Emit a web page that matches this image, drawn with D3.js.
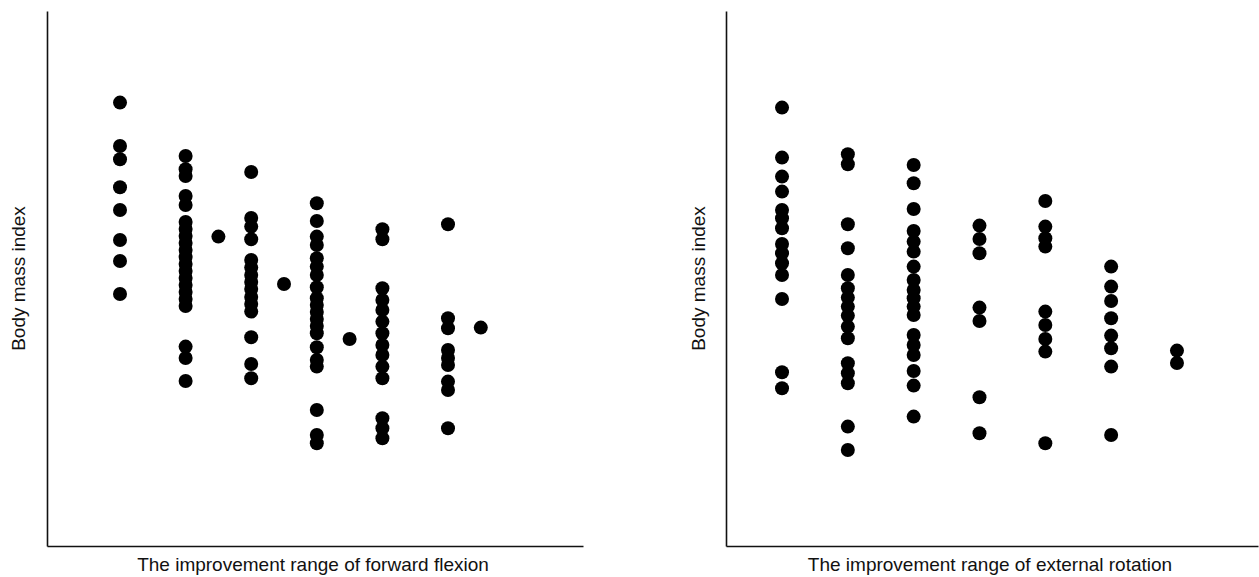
<!DOCTYPE html>
<html>
<head>
<meta charset="utf-8">
<script src="https://cdn.jsdelivr.net/npm/d3@7"></script>
<style>
  body { margin: 0; background: #fff; }
  text { font-family: "Liberation Sans", Arial, sans-serif; }
</style>
</head>
<body>
<div id="chart"></div>
<script>
// improvement range (degrees) for each column of dots
const flexionLevels = [10, 30, 40, 50, 60, 70, 80, 90, 110, 120];
// body mass index values per column, forward flexion panel
const flexionBmi = [
  [35.07, 32.9, 32.24, 30.84, 29.7, 28.2, 27.15, 25.5],
  [32.4, 31.74, 31.4, 30.4, 29.95, 29.1, 28.75, 28.4, 28.05, 27.7, 27.35, 27.0, 26.65, 26.3, 25.95, 25.6, 25.25, 24.9, 22.87, 22.3, 21.15],
  [28.37],
  [31.6, 29.3, 28.87, 28.24, 27.2, 26.82, 26.45, 26.1, 25.75, 25.35, 25.0, 24.62, 23.34, 22.0, 21.29],
  [26.0],
  [30.04, 29.15, 28.37, 27.95, 27.29, 26.87, 26.45, 25.84, 25.29, 24.95, 24.6, 24.25, 23.9, 23.54, 22.84, 22.2, 21.87, 19.7, 18.45, 18.04],
  [23.25],
  [28.74, 28.24, 25.79, 25.2, 24.7, 24.12, 23.54, 22.95, 22.45, 21.87, 21.29, 19.29, 18.79, 18.29],
  [28.99, 24.29, 23.79, 22.7, 22.3, 21.95, 21.12, 20.7, 18.79],
  [23.82]
];

const rotationLevels = [10, 20, 30, 40, 50, 60, 70];
const rotationBmi = [
  [34.82, 32.32, 31.37, 30.62, 29.7, 29.29, 28.79, 28.0, 27.54, 27.04, 26.45, 25.25, 21.59, 20.79],
  [32.49, 31.99, 28.99, 27.79, 26.45, 25.79, 25.32, 24.87, 24.42, 23.87, 23.29, 22.04, 21.54, 21.04, 18.87, 17.7],
  [31.95, 31.04, 29.75, 28.65, 28.12, 27.62, 26.87, 26.2, 25.7, 25.29, 24.87, 24.45, 23.45, 22.95, 22.45, 21.65, 20.92, 19.37],
  [28.92, 28.25, 27.54, 24.82, 24.15, 20.34, 18.54],
  [30.15, 28.87, 28.29, 27.87, 24.62, 23.95, 23.25, 22.62, 18.04],
  [26.87, 25.87, 25.15, 24.29, 23.42, 22.79, 21.87, 18.45],
  [22.67, 22.05]
];

const yLabel = "Body mass index";
const flexionLabel = "The improvement range of forward flexion";
const rotationLabel = "The improvement range of external rotation";

const width = 1259, height = 577;
const svg = d3.select("#chart").append("svg")
  .attr("width", width)
  .attr("height", height);

const y = d3.scaleLinear().domain([12.9, 39.65]).range([546, 11]);

function drawPanel(levels, values, xDomain, xRange, xLabel, yLabelX) {
  const x = d3.scaleLinear().domain(xDomain).range(xRange);
  const points = [];
  levels.forEach((lv, i) => values[i].forEach(v => points.push({ x: lv, y: v })));

  const g = svg.append("g");

  g.selectAll("circle.dot")
    .data(points)
    .enter().append("circle")
    .attr("class", "dot")
    .attr("cx", d => x(d.x))
    .attr("cy", d => y(d.y))
    .attr("r", 7)
    .attr("fill", "#000");

  // bare axis lines, no ticks
  const xAxis = g.append("g").attr("transform", "translate(0,546)")
    .call(d3.axisBottom(x).tickValues([]).tickSizeOuter(0));
  const yAxis = g.append("g").attr("transform", `translate(${xRange[0]},0)`)
    .call(d3.axisLeft(y).tickValues([]).tickSizeOuter(0));
  [xAxis, yAxis].forEach(a => a.select(".domain")
    .attr("stroke", "#111").attr("stroke-width", 1.6));

  g.append("text")
    .attr("x", (xRange[0] + xRange[1]) / 2 - 2)
    .attr("y", 571)
    .attr("text-anchor", "middle")
    .attr("font-size", "19px")
    .attr("fill", "#111")
    .text(xLabel);

  g.append("text")
    .attr("transform", `translate(${yLabelX},${(11 + 546) / 2}) rotate(-90)`)
    .attr("text-anchor", "middle")
    .attr("font-size", "19px")
    .attr("fill", "#111")
    .text(yLabel);
}

drawPanel(flexionLevels, flexionBmi, [-12.26, 151.16], [47, 583], flexionLabel, 25);
drawPanel(rotationLevels, rotationBmi, [1.49, 82.31], [726, 1258], rotationLabel, 705);
</script>
</body>
</html>
